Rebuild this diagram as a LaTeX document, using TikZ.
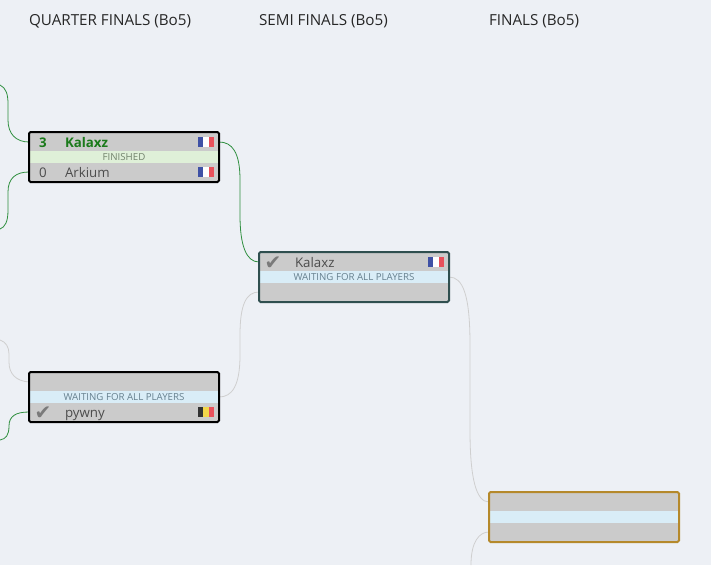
\documentclass[tikz,border=0pt]{standalone}
\usepackage{fontspec}
\setmainfont{Open Sans}
\newfontfamily\symbolfont{DejaVu Sans}
\definecolor{pagebg}{HTML}{EDF0F5}
\definecolor{slotgray}{HTML}{CBCBCB}
\definecolor{finishedbg}{HTML}{DFF0D8}
\definecolor{waitingbg}{HTML}{D9EDF7}
\definecolor{wingreen}{HTML}{1B7A1B}
\definecolor{pathgreen}{HTML}{2F8F3F}
\definecolor{pathgray}{HTML}{CFCFCF}
\definecolor{semiborder}{HTML}{2F4F4F}
\definecolor{finalborder}{HTML}{B5892B}
\definecolor{flagblue}{HTML}{3F51A5}
\definecolor{flagred}{HTML}{E8505B}
\definecolor{flagyellow}{HTML}{F2D64B}
\definecolor{flagblack}{HTML}{333333}
\definecolor{finishedtext}{HTML}{72836C}
\definecolor{waitingtext}{HTML}{66808E}
\begin{document}
\begin{tikzpicture}[
        x=1pt, y=-1pt,
        every node/.style={inner sep=0pt, outer sep=0pt},
        heading/.style={font=\fontsize{15.2}{17}\selectfont, text=black!85, anchor=west},
        slot_row/.style={fill=slotgray, minimum width=190pt, minimum height=20pt},
        finished_row/.style={fill=finishedbg, minimum width=190pt, minimum height=12pt, text=finishedtext, font=\fontsize{9.7}{10}\selectfont},
        waiting_row/.style={fill=waitingbg, minimum width=190pt, minimum height=12pt, text=waitingtext, font=\fontsize{9.7}{10}\selectfont},
        match_box/.style={draw, line width=2pt, rounded corners=1.5pt, minimum width=190pt, minimum height=50pt},
        player/.style={font=\fontsize{13.3}{15}\selectfont, text=black!70, anchor=base west},
        winner/.style={player, text=wingreen, font=\fontsize{13.3}{15}\selectfont\bfseries},
        score/.style={player, anchor=base},
        tick/.style={font=\fontsize{20}{20}\selectfont\symbolfont, text=black!52},
        flag_part/.style={minimum width=5.4pt, minimum height=10pt},
        win_path/.style={draw=pathgreen, line width=0.8pt},
        open_path/.style={draw=pathgray, line width=0.8pt}
    ]
    \fill[pagebg] (0,0) rectangle (711,565);
    \useasboundingbox (0,0) rectangle (711,565);

    \node[heading] (quarter) at (29,21) {QUARTER FINALS (Bo5)};
    \node[heading] (semi) at (259,21) {SEMI FINALS (Bo5)};
    \node[heading] (final) at (489,21) {FINALS (Bo5)};

    % rows of each match
    \foreach \m/\x/\y/\status/\word in {qa/124/157/finished_row/FINISHED, qb/124/397/waiting_row/WAITING FOR ALL PLAYERS, sa/354/277/waiting_row/WAITING FOR ALL PLAYERS, fa/584/517/waiting_row/} {
        \node[slot_row] (\m top) at (\x,\y-15) {};
        \node[slot_row] (\m bot) at (\x,\y+15) {};
        \node[\status] (\m mid) at (\x,\y) {\word};
    }

    % free ends of the paths
    \coordinate (in1) at (0,85);
    \coordinate (in2) at (0,229);
    \coordinate (in3) at (0,340);
    \coordinate (in4) at (0,440);
    \coordinate (in5) at (471,565);

    \draw[win_path] (in1) .. controls (6,88) and (8,94) .. (8,104) -- (8,120) .. controls (8,134) and (16,142) .. (qatop.west);
    \draw[win_path] (qabot.west) .. controls (16,172) and (8,178) .. (8,192) -- (8,210) .. controls (8,222) and (5,227) .. (in2);
    \draw[open_path] (in3) .. controls (6,342) and (9,347) .. (9,354) -- (9,362) .. controls (9,374) and (16,381) .. (qbtop.west);
    \draw[win_path] (qbbot.west) .. controls (16,412) and (9,416) .. (9,426) .. controls (9,435) and (6,439) .. (in4);
    \draw[win_path] (qatop.east) .. controls (232,142) and (240,152) .. (240,180) -- (240,215) .. controls (240,245) and (246,262) .. (satop.west);
    \draw[open_path] (qbmid.east) .. controls (232,397) and (240,386) .. (240,355) -- (240,335) .. controls (240,305) and (246,292) .. (sabot.west);
    \draw[open_path] (samid.east) .. controls (463,277) and (470,295) .. (470,345) -- (470,430) .. controls (470,478) and (476,502) .. (fatop.west);
    \draw[open_path] (fabot.west) .. controls (479,532) and (471,542) .. (in5);

    % borders
    \node[match_box, draw=black] (qa) at (124,157) {};
    \node[match_box, draw=black] (qb) at (124,397) {};
    \node[match_box, draw=semiborder] (sa) at (354,277) {};
    \node[match_box, draw=finalborder] (fa) at (584,517) {};

    % players
    \node[score, text=wingreen, font=\fontsize{13.3}{15}\selectfont\bfseries] (qa score1) at (43,147) {3};
    \node[winner] (qa name1) at (65,147) {Kalaxz};
    \node[score] (qa score2) at (43,177) {0};
    \node[player] (qa name2) at (65,177) {Arkium};
    \node[tick] (qb tick) at (43,413) {✔};
    \node[player] (qb name) at (65,417) {pywny};
    \node[tick] (sa tick) at (273,263) {✔};
    \node[player] (sa name) at (295,267) {Kalaxz};

    % flags
    \foreach \fx/\fy/\ca/\cb/\cc in {206/142/flagblue/white/flagred, 206/172/flagblue/white/flagred, 206/412/flagblack/flagyellow/flagred, 436/262/flagblue/white/flagred} {
        \node[flag_part, fill=\ca] at (\fx-5.3,\fy) {};
        \node[flag_part, fill=\cb] at (\fx,\fy) {};
        \node[flag_part, fill=\cc] at (\fx+5.3,\fy) {};
    }
\end{tikzpicture}
\end{document}
